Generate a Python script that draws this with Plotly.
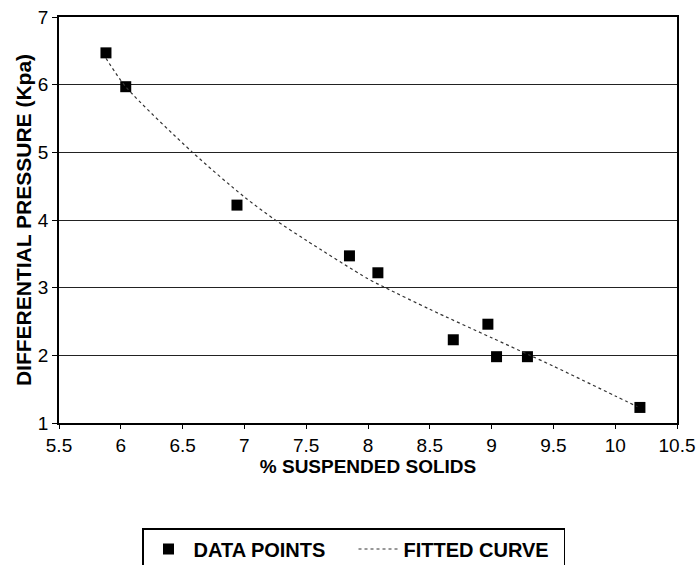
import plotly.graph_objects as go

# Measured data points
solids = [5.88, 6.04, 6.94, 7.85, 8.08, 8.69, 8.97, 9.04, 9.29, 10.2]
pressure = [6.47, 5.97, 4.22, 3.47, 3.22, 2.23, 2.46, 1.98, 1.98, 1.23]

# Fitted curve
fit_x = [5.88, 6.04, 6.58, 7.0, 7.25, 7.5, 8.0, 8.14, 8.5, 9.0, 9.31, 9.5, 10.0, 10.18]
fit_y = [6.39, 5.97, 5.0, 4.34, 4.0, 3.70, 3.13, 3.0, 2.68, 2.26, 2.0, 1.84, 1.40, 1.24]

x_ticks = [5.5, 6, 6.5, 7, 7.5, 8, 8.5, 9, 9.5, 10, 10.5]
y_ticks = [1, 2, 3, 4, 5, 6, 7]

font = "Liberation Sans, Arial, sans-serif"

fig = go.Figure()
fig.add_trace(go.Scatter(
    x=solids, y=pressure, mode="markers", name="<b>DATA POINTS</b>",
    marker=dict(symbol="square", size=11, color="black"),
))
fig.add_trace(go.Scatter(
    x=fit_x, y=fit_y, mode="lines", name="<b>FITTED CURVE</b>",
    line=dict(color="#333333", width=1.2, dash="dot", shape="spline", smoothing=0.8),
))

fig.update_layout(
    width=698, height=565,
    margin=dict(l=59, r=21, t=17, b=142),
    paper_bgcolor="white", plot_bgcolor="white",
    font=dict(family=font, color="black", size=19),
    showlegend=True,
    legend=dict(
        orientation="h", xref="container", yref="container",
        x=142 / 698, xanchor="left", y=1 - 528 / 565, yanchor="top",
        bordercolor="black", borderwidth=1.5,
        font=dict(size=20, family=font, color="black"),
        itemwidth=40, valign="middle", entrywidth=155,
    ),
    xaxis=dict(
        range=[5.5, 10.5], tickvals=x_ticks, ticktext=[str(v) for v in x_ticks],
        showgrid=False, zeroline=False, automargin=False,
        showline=True, linecolor="black", linewidth=1.5, mirror=True,
        ticks="outside", ticklen=4, tickcolor="black",
        tickfont=dict(size=19),
        title=dict(text="<b>% SUSPENDED SOLIDS</b>", font=dict(size=19), standoff=1),
    ),
    yaxis=dict(
        range=[1, 7], tickvals=y_ticks, automargin=False,
        showgrid=True, gridcolor="#222222", gridwidth=1.3, zeroline=False,
        showline=True, linecolor="black", linewidth=1.5, mirror=True,
        ticks="outside", ticklen=5, tickcolor="black",
        tickfont=dict(size=19),
        title=dict(text="<b>DIFFERENTIAL PRESSURE (Kpa)</b>", font=dict(size=21), standoff=1),
    ),
)

fig.write_html(
    "out.html",
    config={"displayModeBar": False},
    post_script="document.body.style.margin='0';document.body.style.overflow='hidden';",
)
